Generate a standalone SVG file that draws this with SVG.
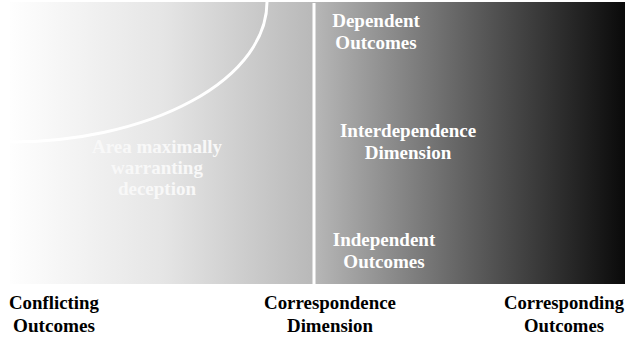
<svg xmlns="http://www.w3.org/2000/svg" width="625" height="337" viewBox="0 0 625 337">
<defs>
<linearGradient id="g" x1="10" y1="0" x2="625" y2="0" gradientUnits="userSpaceOnUse">
<stop offset="0" stop-color="#fefefe"/>
<stop offset="0.1" stop-color="#f4f4f4"/>
<stop offset="0.25" stop-color="#e5e5e5"/>
<stop offset="0.49" stop-color="#b9b9b9"/>
<stop offset="0.75" stop-color="#5e5e5e"/>
<stop offset="1" stop-color="#0a0a0a"/>
</linearGradient>
<style>
.w{font-family:"Liberation Serif","Times New Roman",serif;font-weight:bold;font-size:19px;fill:#ffffff;text-anchor:middle}
.k{font-family:"Liberation Serif","Times New Roman",serif;font-weight:bold;font-size:19px;fill:#000000;text-anchor:middle}
.a{font-family:"Liberation Serif","Times New Roman",serif;font-weight:bold;font-size:19px;fill:#f8f8f8;text-anchor:middle}
</style>
</defs>
<g id="background">
<rect x="10" y="2" width="615" height="282" fill="url(#g)"/>
</g>
<g id="connectors">
<path d="M267,2 A257,140 0 0 1 10,142" fill="none" stroke="#ffffff" stroke-width="3"/>
<line x1="314" y1="3" x2="314" y2="284" stroke="#ffffff" stroke-width="3"/>
</g>
<g id="deception-area">
<text class="a" x="157" y="153">Area maximally</text>
<text class="a" x="157" y="174">warranting</text>
<text class="a" x="157" y="195">deception</text>
</g>
<g id="dependent">
<text class="w" x="376" y="27">Dependent</text>
<text class="w" x="376" y="49">Outcomes</text>
</g>
<g id="interdependence">
<text class="w" x="408" y="137">Interdependence</text>
<text class="w" x="408" y="159">Dimension</text>
</g>
<g id="independent">
<text class="w" x="384" y="246">Independent</text>
<text class="w" x="384" y="268">Outcomes</text>
</g>
<g id="conflicting">
<text class="k" x="54" y="309" textLength="90" lengthAdjust="spacingAndGlyphs">Conflicting</text>
<text class="k" x="54" y="332" textLength="82" lengthAdjust="spacingAndGlyphs">Outcomes</text>
</g>
<g id="correspondence">
<text class="k" x="330" y="309" textLength="132" lengthAdjust="spacingAndGlyphs">Correspondence</text>
<text class="k" x="330" y="332" textLength="86" lengthAdjust="spacingAndGlyphs">Dimension</text>
</g>
<g id="corresponding">
<text class="k" x="564" y="309" textLength="120" lengthAdjust="spacingAndGlyphs">Corresponding</text>
<text class="k" x="564" y="332" textLength="80" lengthAdjust="spacingAndGlyphs">Outcomes</text>
</g>
</svg>
